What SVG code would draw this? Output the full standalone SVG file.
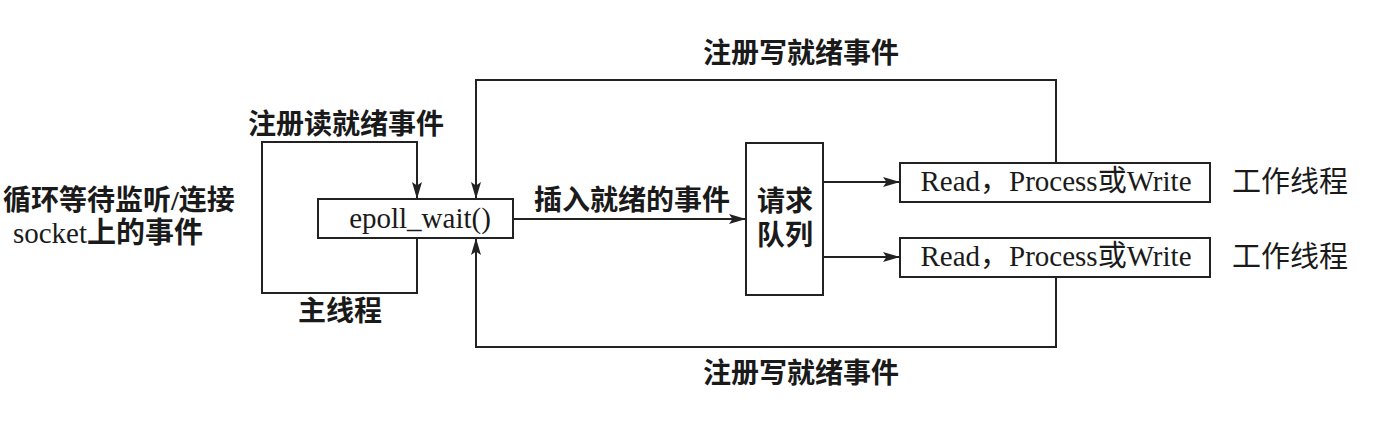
<svg xmlns="http://www.w3.org/2000/svg" width="1394" height="432" viewBox="0 0 1394 432">
<style>
.ln{fill:none;stroke:#222;stroke-width:2}
.box{fill:#fff;stroke:#222;stroke-width:2}
.t{font-family:"Liberation Serif","Noto Sans CJK SC",serif;font-size:28px;fill:#1a1a1a}
.b{font-weight:700}
.c{text-anchor:middle}
.w{font-size:29px}
</style>
<defs>
<marker id="ah" markerUnits="userSpaceOnUse" markerWidth="18" markerHeight="12" refX="17" refY="6" orient="auto">
<path d="M0,1 L17,6 L0,11 L3.5,6 Z" fill="#222"/>
</marker>
</defs>
<rect width="1394" height="432" fill="#fff"/>
<g id="connectors">
<path class="ln" d="M417,238 V293 H262 V142 H417 V199" marker-end="url(#ah)"/>
<path class="ln" d="M1056,163 V80 H476 V199" marker-end="url(#ah)"/>
<path class="ln" d="M1056,277 V347 H476 V238" marker-end="url(#ah)"/>
<path class="ln" d="M513,219 H746" marker-end="url(#ah)"/>
<path class="ln" d="M823,182 H900" marker-end="url(#ah)"/>
<path class="ln" d="M823,257 H900" marker-end="url(#ah)"/>
</g>
<g id="label-write-top"><text class="t b c" x="801" y="63">注册写就绪事件</text></g>
<g id="label-write-bottom"><text class="t b c" x="801" y="383">注册写就绪事件</text></g>
<g id="label-read"><text class="t b c" x="346" y="134">注册读就绪事件</text></g>
<g id="label-main"><text class="t b c" x="340" y="321">主线程</text></g>
<g id="label-insert"><text class="t b c" x="632" y="210">插入就绪的事件</text></g>
<g id="label-left">
<text class="t b" x="3" y="210" font-size="26">循环等待监听/连接</text>
<text class="t c w" x="108" y="243">socket<tspan class="b">上的事件</tspan></text>
</g>
<g id="epoll">
<rect class="box" x="318" y="199" width="195" height="39"/>
<text class="t c w" x="420" y="228">epoll_wait()</text>
</g>
<g id="queue">
<rect class="box" x="746" y="143" width="77" height="152"/>
<text class="t b c" x="785" y="211">请求</text>
<text class="t b c" x="785" y="245">队列</text>
</g>
<g id="worker1">
<rect class="box" x="900" y="163" width="310" height="39"/>
<text class="t c w" x="1056" y="191">Read，Process或Write</text>
<text class="t w" x="1232" y="192">工作线程</text>
</g>
<g id="worker2">
<rect class="box" x="900" y="238" width="310" height="39"/>
<text class="t c w" x="1056" y="266">Read，Process或Write</text>
<text class="t w" x="1232" y="267">工作线程</text>
</g>
</svg>
